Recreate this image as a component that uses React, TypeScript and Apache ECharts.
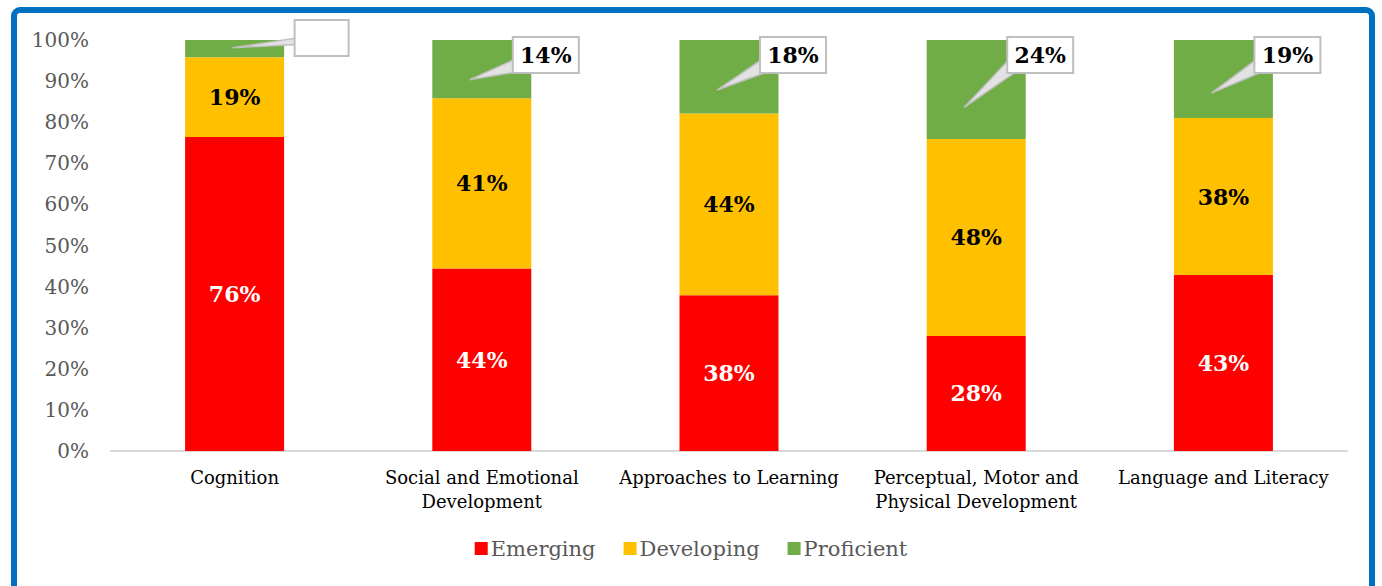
import React, { useEffect, useRef } from "react";
import * as echarts from "echarts";

const categories = [
  "Cognition",
  "Social and Emotional\nDevelopment",
  "Approaches to Learning",
  "Perceptual, Motor and\nPhysical Development",
  "Language and Literacy",
];
const emerging = [76.4, 44.4, 37.9, 28.0, 42.8];
const developing = [19.4, 41.4, 44.2, 47.9, 38.2];
const proficient = [4.2, 14.2, 17.9, 24.1, 19.0];
const proficientLabels = ["", "14%", "18%", "24%", "19%"];
const yTicks = [0, 10, 20, 30, 40, 50, 60, 70, 80, 90, 100];

const FONT = "'DejaVu Serif', Georgia, serif";

export default function App() {
  const ref = useRef<HTMLDivElement>(null);
  useEffect(() => {
    if (!ref.current) return;
    const chart = echarts.init(ref.current, null, { renderer: "svg" });
    const pct = (p: any) => Math.round(p.value) + "%";
    const calloutData = proficient.map((v, i) => [i, v]);
    chart.setOption({
      animation: false,
      textStyle: { fontFamily: FONT },
      graphic: [
        {
          type: "rect",
          shape: { x: 14, y: 10, width: 1358, height: 640, r: 6 },
          style: { fill: "none", stroke: "#0070c0", lineWidth: 6 },
          silent: true,
        },
      ],
      grid: { left: 111, right: 35, top: 40, bottom: 135 },
      legend: {
        bottom: 22,
        left: "center",
        itemWidth: 13,
        itemHeight: 13,
        itemGap: 28,
        icon: "rect",
        textStyle: { fontSize: 21, color: "#595959", fontFamily: FONT, padding: [0, 0, 0, -2] },
        data: ["Emerging", "Developing", "Proficient"],
      },
      xAxis: {
        type: "category",
        data: categories,
        axisLine: { lineStyle: { color: "#d9d9d9", width: 2 } },
        axisTick: { show: false },
        axisLabel: {
          fontSize: 18,
          color: "#000",
          fontFamily: FONT,
          margin: 14,
          lineHeight: 24,
          interval: 0,
        },
      },
      yAxis: {
        type: "value",
        min: yTicks[0],
        max: yTicks[yTicks.length - 1],
        interval: 10,
        axisLine: { show: false },
        axisTick: { show: false },
        splitLine: { show: false },
        axisLabel: {
          formatter: "{value}%",
          fontSize: 20,
          color: "#595959",
          fontFamily: FONT,
          margin: 22,
        },
      },
      series: [
        {
          name: "Emerging",
          type: "bar",
          stack: "total",
          barWidth: 99,
          data: emerging,
          itemStyle: { color: "#ff0000" },
          label: {
            show: true,
            position: "inside",
            formatter: pct,
            color: "#fff",
            fontWeight: "bold",
            fontSize: 22,
            fontFamily: FONT,
          },
        },
        {
          name: "Developing",
          type: "bar",
          stack: "total",
          data: developing,
          itemStyle: { color: "#ffc000" },
          label: {
            show: true,
            position: "inside",
            formatter: pct,
            color: "#000",
            fontWeight: "bold",
            fontSize: 22,
            fontFamily: FONT,
          },
        },
        {
          name: "Proficient",
          type: "bar",
          stack: "total",
          data: proficient,
          itemStyle: { color: "#70ad47" },
        },
        {
          name: "callouts",
          type: "custom",
          z: 10,
          data: calloutData,
          encode: { x: 0, y: 1 },
          renderItem: (params: any, api: any) => {
            const i = api.value(0);
            const v = api.value(1);
            const top = api.coord([i, 100]);
            const bot = api.coord([i, 100 - v]);
            const cx = top[0];
            const segH = bot[1] - top[1];
            const small = segH < 30;
            const tipX = small ? cx - 2 : cx - 12;
            const tipY = top[1] + segH * (small ? 0.45 : 0.68);
            const bw = small ? 54 : 66;
            const bh = 36;
            const bx = small ? cx + 60 : cx + 31;
            const by = small ? top[1] - 20 : top[1] - 3;
            const pts = small
              ? [
                  [tipX, tipY],
                  [bx + 2, by + bh * 0.5],
                  [bx + 2, by + bh * 0.68],
                ]
              : [
                  [tipX, tipY],
                  [bx + 2, by + bh * 0.62],
                  [bx + 10, by + bh - 2],
                ];
            return {
              type: "group",
              children: [
                {
                  type: "polygon",
                  shape: { points: pts },
                  style: { fill: "#e2e2e2", stroke: "#bfbfbf", lineWidth: 1.5 },
                },
                {
                  type: "rect",
                  shape: { x: bx, y: by, width: bw, height: bh },
                  style: { fill: "#fff", stroke: "#bfbfbf", lineWidth: 2 },
                },
                {
                  type: "text",
                  style: {
                    x: bx + bw / 2,
                    y: by + bh / 2,
                    text: proficientLabels[i],
                    align: "center",
                    verticalAlign: "middle",
                    fill: "#000",
                    font: "bold 22px " + FONT,
                  },
                },
              ],
            };
          },
        },
      ],
    });
    return () => chart.dispose();
  }, []);
  return (
    <div
      ref={ref}
      style={{ position: "fixed", left: 0, top: 0, width: 1382, height: 586, background: "#fff" }}
    />
  );
}
